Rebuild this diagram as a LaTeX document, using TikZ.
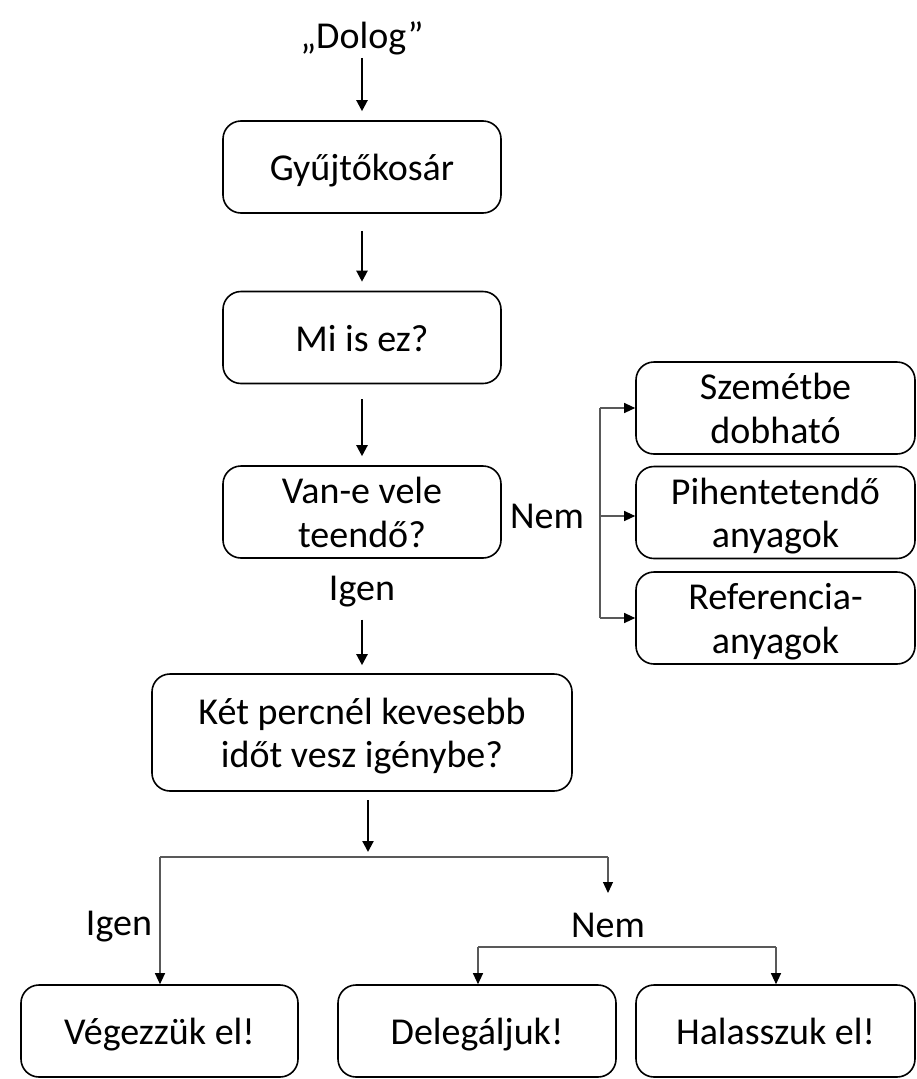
\documentclass[tikz,border=0pt]{standalone}
\usepackage{fontspec}
\setmainfont{Carlito}
\usetikzlibrary{arrows.meta}
\newcommand\mystrut{\rule[-8pt]{0pt}{43pt}}
\begin{document}
\begin{tikzpicture}[x=1pt,y=-1pt,
  box/.style={draw, line width=1.6pt, rounded corners=18pt, minimum width=278pt, minimum height=92pt, align=center, inner sep=0pt, font=\fontsize{38}{43.5}\selectfont},
  lbl/.style={inner sep=0pt, font=\fontsize{38}{43.5}\selectfont},
  mainarrow/.style={line width=2.2pt, -{Triangle[length=11pt,width=11pt]}},
  branch/.style={line width=1.1pt, draw=black!65, -{Triangle[length=11pt,width=10pt,fill=black,color=black]}},
  branchline/.style={line width=1.1pt, draw=black!65}
]
\useasboundingbox (0,0) rectangle (916,1079);
\node[lbl] (dolog) at (362,38) {„Dolog”};
\node[box] (gy) at (362,167) {\mystrut Gyűjtőkosár};
\node[box] (mi) at (362,337.5) {\mystrut Mi is ez?};
\node[box] (van) at (362,512) {\mystrut Van-e vele\\\mystrut teendő?};
\node[lbl] (igen1) at (362,592) {Igen};
\node[box, minimum width=420pt, minimum height=117pt] (ket) at (362,732.5) {\mystrut Két percnél kevesebb\\\mystrut időt vesz igénybe?};
\node[lbl] (nem1) at (547,516) {Nem};
\node[box, minimum width=279pt] (sz) at (775.5,408) {\mystrut Szemétbe\\\mystrut dobható};
\node[box, minimum width=279pt] (pi) at (775.5,512.5) {\mystrut Pihentetendő\\\mystrut anyagok};
\node[box, minimum width=279pt] (re) at (775.5,618) {\mystrut Referencia-\\\mystrut anyagok};
\node[box, minimum width=277pt] (ve) at (159.5,1031) {\mystrut Végezzük el!};
\node[box] (de) at (477,1031) {\mystrut Delegáljuk!};
\node[box, minimum width=279pt] (ha) at (775.5,1031) {\mystrut Halasszuk el!};
\node[lbl] (igen2) at (119,927) {Igen};
\node[lbl] (nem2) at (608,925) {Nem};
% main arrows
\draw[mainarrow, shorten <=3pt, shorten >=9pt] (dolog.south) -- (gy.north);
\draw[mainarrow, shorten <=17pt, shorten >=9pt] (gy.south) -- (mi.north);
\draw[mainarrow, shorten <=15pt, shorten >=9pt] (mi.south) -- (van.north);
\draw[mainarrow, shorten <=12pt, shorten >=8pt] (igen1.south) -- (ket.north);
% Nem bracket
\coordinate (b1) at (600,408);
\coordinate (b2) at (600,516);
\coordinate (b3) at (600,618);
\draw[branchline] (b1) -- (b3);
\draw[branch] (b1) -- (sz.west);
\draw[branch] (b2) -- (b2 -| pi.west);
\draw[branch] (b3) -- (re.west);
% bottom
\coordinate (k1) at (368,800);
\coordinate (k2) at (368,852);
\draw[mainarrow] (k1) -- (k2);
\coordinate (h1) at (160,857);
\coordinate (h2) at (608,857);
\coordinate (h3) at (608,893);
\draw[branchline] (h1) -- (h2);
\draw[branch] (h1) -- (h1 |- ve.north);
\draw[branch] (h2) -- (h3);
\coordinate (n1) at (478,947);
\coordinate (n2) at (776,947);
\draw[branchline] (n1) -- (n2);
\draw[branch] (n1) -- (n1 |- de.north);
\draw[branch] (n2) -- (n2 |- ha.north);
\end{tikzpicture}
\end{document}
